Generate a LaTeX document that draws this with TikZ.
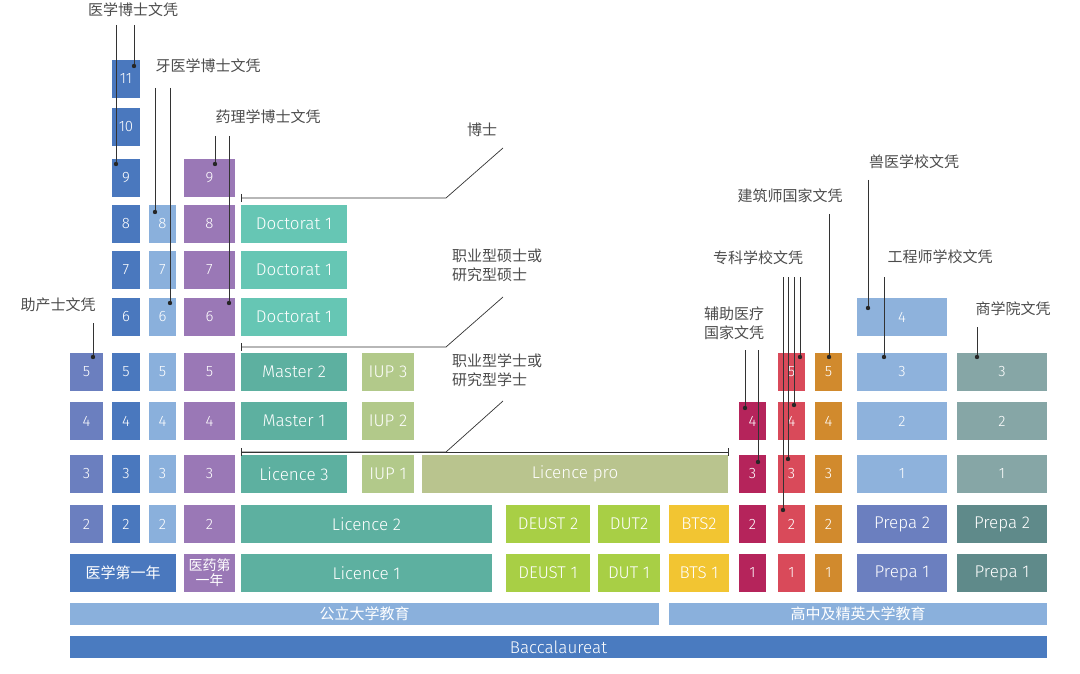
\documentclass[tikz,border=0pt]{standalone}
\usepackage{fontspec}
\setmainfont{Fira Sans}[UprightFont=* Light]
\newfontfamily\cjk{Noto Sans CJK SC}
\begin{document}
\begin{tikzpicture}[x=1pt,y=-1pt,
  box/.style={draw=none,inner sep=0pt,text=white,font=\fontsize{17}{17}\selectfont},
  num/.style={box,font=\fontsize{15}{15}\selectfont},
  cn/.style={box,font=\cjk\fontsize{15}{17}\selectfont,align=center},
  lbl/.style={text=black!70,font=\cjk\fontsize{15}{19}\selectfont,inner sep=0pt,align=left},
  ld/.style={draw=black!80,line width=0.9pt},
  dt/.style={fill=black!85}]
\useasboundingbox (0,0) rectangle (1080,674);
\definecolor{dblue}{HTML}{4A78BE}
\definecolor{lblue}{HTML}{8AB0DC}
\definecolor{purp}{HTML}{9A78B6}
\definecolor{tealA}{HTML}{66C6B4}
\definecolor{tealB}{HTML}{5DB0A0}
\definecolor{iup}{HTML}{B2C98A}
\definecolor{lpro}{HTML}{B9C48E}
\definecolor{lime}{HTML}{A8CF45}
\definecolor{bts}{HTML}{F2C532}
\definecolor{dred}{HTML}{B5245B}
\definecolor{red1}{HTML}{D94A5A}
\definecolor{oran}{HTML}{D18A2D}
\definecolor{engb}{HTML}{8EB2DC}
\definecolor{prepb}{HTML}{6B7FBF}
\definecolor{bizg}{HTML}{86A6A6}
\definecolor{bizd}{HTML}{5F8A8A}
\definecolor{bacc}{HTML}{4A7BC0}
\newcommand\bx[8][box]{\node[#1,fill=#7,minimum width={(#5-#3)*1pt},minimum height={(#6-#4)*1pt}] (#2) at ({(#3+#5)/2},{(#4+#6)/2}) {#8};}
% rows
\def\rA{60}\def\rAb{98}
% column B dark blue
\bx[num]{b11}{112}{60}{140}{98}{dblue}{11}
\bx[num]{b10}{112}{108}{140}{146}{dblue}{10}
\bx[num]{b9}{112}{159}{140}{197}{dblue}{9}
\bx[num]{b8}{112}{205}{140}{243}{dblue}{8}
\bx[num]{b7}{112}{251}{140}{289}{dblue}{7}
\bx[num]{b6}{112}{298}{140}{336}{dblue}{6}
\bx[num]{b5}{112}{353}{140}{391}{dblue}{5}
\bx[num]{b4}{112}{402}{140}{440}{dblue}{4}
\bx[num]{b3}{112}{455}{140}{493}{dblue}{3}
\bx[num]{b2}{112}{505}{140}{543}{dblue}{2}
% column A
\bx[num]{a5}{70}{353}{103}{391}{prepb}{5}
\bx[num]{a4}{70}{402}{103}{440}{prepb}{4}
\bx[num]{a3}{70}{455}{103}{493}{prepb}{3}
\bx[num]{a2}{70}{505}{103}{543}{prepb}{2}
\bx[cn]{a1}{70}{554}{176}{592}{dblue}{医学第一年}
% column C
\bx[num]{c8}{149}{205}{176}{243}{lblue}{8}
\bx[num]{c7}{149}{251}{176}{289}{lblue}{7}
\bx[num]{c6}{149}{298}{176}{336}{lblue}{6}
\bx[num]{c5}{149}{353}{176}{391}{lblue}{5}
\bx[num]{c4}{149}{402}{176}{440}{lblue}{4}
\bx[num]{c3}{149}{455}{176}{493}{lblue}{3}
\bx[num]{c2}{149}{505}{176}{543}{lblue}{2}
% column D
\bx[num]{d9}{184}{159}{235}{197}{purp}{9}
\bx[num]{d8}{184}{205}{235}{243}{purp}{8}
\bx[num]{d7}{184}{251}{235}{289}{purp}{7}
\bx[num]{d6}{184}{298}{235}{336}{purp}{6}
\bx[num]{d5}{184}{353}{235}{391}{purp}{5}
\bx[num]{d4}{184}{402}{235}{440}{purp}{4}
\bx[num]{d3}{184}{455}{235}{493}{purp}{3}
\bx[num]{d2}{184}{505}{235}{543}{purp}{2}
\node[cn,fill=purp,minimum width=51pt,minimum height=38pt,font=\cjk\fontsize{14}{15}\selectfont] (d1) at (209.5,573) {医药第\\一年};
% university
\bx{doc3}{241}{205}{347}{243}{tealA}{Doctorat 1}
\bx{doc2}{241}{251}{347}{289}{tealA}{Doctorat 1}
\bx{doc1}{241}{298}{347}{336}{tealA}{Doctorat 1}
\bx{m2}{241}{353}{347}{391}{tealB}{Master 2}
\bx{m1}{241}{402}{347}{440}{tealB}{Master 1}
\bx{l3}{241}{455}{347}{493}{tealB}{Licence 3}
\bx{l2}{241}{505}{492}{543}{tealB}{Licence 2}
\bx{l1}{241}{554}{492}{592}{tealB}{Licence 1}
\bx{iup3}{362}{353}{414}{391}{iup}{IUP 3}
\bx{iup2}{362}{402}{414}{440}{iup}{IUP 2}
\bx{iup1}{362}{455}{414}{493}{iup}{IUP 1}
\bx{lpro}{422}{455}{728}{493}{lpro}{Licence pro}
\bx{deust2}{506}{505}{590}{543}{lime}{DEUST 2}
\bx{deust1}{506}{554}{590}{592}{lime}{DEUST 1}
\bx{dut2}{598}{505}{660}{543}{lime}{DUT2}
\bx{dut1}{598}{554}{660}{592}{lime}{DUT 1}
\bx{bts2}{669}{505}{729}{543}{bts}{BTS2}
\bx{bts1}{669}{554}{729}{592}{bts}{BTS 1}
% reds
\bx[num]{e4}{739}{402}{766}{440}{dred}{4}
\bx[num]{e3}{739}{455}{766}{493}{dred}{3}
\bx[num]{e2}{739}{505}{766}{543}{dred}{2}
\bx[num]{e1}{739}{554}{766}{592}{dred}{1}
\bx[num]{f5}{778}{353}{805}{391}{red1}{5}
\bx[num]{f4}{778}{402}{805}{440}{red1}{4}
\bx[num]{f3}{778}{455}{805}{493}{red1}{3}
\bx[num]{f2}{778}{505}{805}{543}{red1}{2}
\bx[num]{f1}{778}{554}{805}{592}{red1}{1}
\bx[num]{g5}{815}{353}{842}{391}{oran}{5}
\bx[num]{g4}{815}{402}{842}{440}{oran}{4}
\bx[num]{g3}{815}{455}{842}{493}{oran}{3}
\bx[num]{g2}{815}{505}{842}{543}{oran}{2}
\bx[num]{g1}{815}{554}{842}{592}{oran}{1}
% engineering / business
\bx[num]{h4}{857}{298}{947}{336}{engb}{4}
\bx[num]{h3}{857}{353}{947}{391}{engb}{3}
\bx[num]{h2}{857}{402}{947}{440}{engb}{2}
\bx[num]{h1}{857}{455}{947}{493}{engb}{1}
\bx{hp2}{857}{505}{947}{543}{prepb}{Prepa 2}
\bx{hp1}{857}{554}{947}{592}{prepb}{Prepa 1}
\bx[num]{k3}{957}{353}{1047}{391}{bizg}{3}
\bx[num]{k2}{957}{402}{1047}{440}{bizg}{2}
\bx[num]{k1}{957}{455}{1047}{493}{bizg}{1}
\bx{kp2}{957}{505}{1047}{543}{bizd}{Prepa 2}
\bx{kp1}{957}{554}{1047}{592}{bizd}{Prepa 1}
% bands
\bx[cn]{pub}{70}{603}{659}{625}{lblue}{公立大学教育}
\bx[cn]{lyc}{669}{603}{1047}{625}{lblue}{高中及精英大学教育}
\bx{bac}{70}{636}{1047}{658}{bacc}{Baccalaureat}
% labels
\node[lbl] (t1) at (133,10) {医学博士文凭};
\node[lbl] (t2) at (208,66) {牙医学博士文凭};
\node[lbl] (t3) at (268,117) {药理学博士文凭};
\node[lbl] (t4) at (58,305) {助产士文凭};
\node[lbl] (t5) at (482,130) {博士};
\node[lbl,anchor=west] (t6) at (452,265) {职业型硕士或\\研究型硕士};
\node[lbl,anchor=west] (t7) at (452,370) {职业型学士或\\研究型学士};
\node[lbl,align=center] (t8) at (734,323) {辅助医疗\\国家文凭};
\node[lbl] (t9) at (758,258) {专科学校文凭};
\node[lbl] (t10) at (790,196) {建筑师国家文凭};
\node[lbl] (t11) at (914,162) {兽医学校文凭};
\node[lbl] (t12) at (940,257) {工程师学校文凭};
\node[lbl] (t13) at (1013,309) {商学院文凭};
% leaders
\newcommand\lead[3]{\coordinate (s#1) at (#2,#3);}
\foreach \x/\ya/\yb in {116/25/164,134/25/66,155/88/212,170/88/303,215/136/164,229/136/303,93/323/357,745/350/408,758/350/462,783/277/510,788/277/459,794/277/405,800/277/357,829/214/357,868/180/308,884/277/357,977/327/357}{
  \coordinate (p) at (\x,\ya); \coordinate (q) at (\x,\yb);
  \draw[ld] (p) -- (q); \fill[dt] (q) circle (2.2);
}
% bracket lines
\coordinate (u1) at (241,198); \coordinate (u2) at (446,198); \coordinate (u3) at (503,148);
\draw[ld,line width=0.7pt] (u3) -- (u2) -- (u1); \draw[ld,line width=0.7pt] (241,194) -- (241,202);
\coordinate (v1) at (241,347); \coordinate (v2) at (446,347); \coordinate (v3) at (503,297);
\draw[ld,line width=0.7pt] (v3) -- (v2) -- (v1); \draw[ld,line width=0.7pt] (241,343) -- (241,351);
\coordinate (w1) at (241,452); \coordinate (w2) at (446,452); \coordinate (w3) at (503,401); \coordinate (w4) at (728,452);
\draw[ld,line width=0.7pt] (w3) -- (w2) -- (w1); \draw[ld,line width=0.7pt] (w1) -- (w4);
\draw[ld,line width=0.7pt] (241,448) -- (241,456); \draw[ld,line width=0.7pt] (728,448) -- (728,456);
\end{tikzpicture}
\end{document}
